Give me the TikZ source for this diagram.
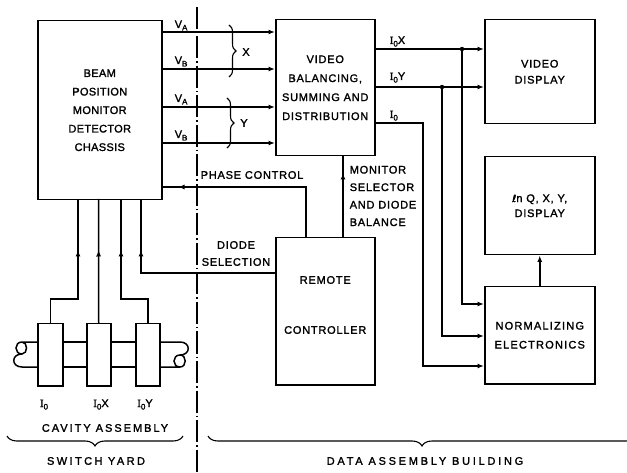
\documentclass[tikz,border=0pt]{standalone}
\usepackage{fontspec}
\setmainfont{Liberation Sans}[LetterSpace=7,FakeBold=1.6]
\newfontfamily\tightf{Liberation Sans}[LetterSpace=3,FakeBold=1.6]
\newfontfamily\normf{Liberation Sans}[LetterSpace=11,FakeBold=1.6]
\newfontfamily\cavf{Liberation Sans}[LetterSpace=18,FakeBold=1.6]
\newfontfamily\swf{Liberation Sans}[LetterSpace=22,FakeBold=1.6]
\newfontfamily\daf{Liberation Sans}[LetterSpace=25,FakeBold=1.6]
\newfontfamily\serifI{Liberation Serif}[FakeBold=1.6]
\newfontfamily\djv{DejaVu Sans}[FakeBold=1.2]
\usetikzlibrary{arrows.meta,decorations.pathreplacing,decorations.markings,calc}
\newcommand\lsub[1]{\raisebox{-2.5pt}{\fontsize{8}{8}\selectfont #1}}
\newcommand\Izero{{\serifI I}\lsub{0}}
\begin{document}
\begin{tikzpicture}[x=1pt,y=-1pt,line width=1.5pt,
  font=\fontsize{11}{13}\selectfont,
  box/.style={draw, line width=1.5pt, inner sep=0pt, align=center, anchor=north west},
  lbl/.style={inner sep=0pt},
  sig/.style={-{Latex[length=6.5pt,width=5pt]}},
  midfwd/.style={postaction={decorate},decoration={markings,mark=at position #1 with {\arrow{Latex[length=6.5pt,width=5pt]}}}},
  midrev/.style={postaction={decorate},decoration={markings,mark=at position #1 with {\arrowreversed{Latex[length=6.5pt,width=5pt]}}}},
  bracey/.style={decorate,decoration={brace,amplitude=#1},line width=1.1pt}
]
\useasboundingbox (0,0) rectangle (627,473);

% separation line
\draw[line width=1.3pt, dash pattern=on 22pt off 3pt on 1.5pt off 3pt] (197,7) -- (197,473);

% boxes
\node[box, minimum width=124pt, minimum height=179pt, font=\tightf\fontsize{11}{18.5}\selectfont] (bpm) at (37,20)
  {BEAM\\POSITION\\MONITOR\\DETECTOR\\CHASSIS};
\node[box, minimum width=99pt, minimum height=136pt, font=\fontsize{11}{19}\selectfont] (vbal) at (275,19)
  {VIDEO\\BALANCING,\\SUMMING AND\\DISTRIBUTION};
\node[box, minimum width=110pt, minimum height=104pt, font=\fontsize{11}{16}\selectfont] (vdisp) at (484,19)
  {VIDEO\\DISPLAY};
\node[box, minimum width=110pt, minimum height=98pt, font=\fontsize{11}{15}\selectfont] (lnq) at (484,156)
  {{\djv\fontsize{10}{10}\selectfont ℓ}n Q, X, Y,\\DISPLAY};
\node[box, minimum width=110pt, minimum height=97pt, font=\normf\fontsize{11}{19}\selectfont] (norm) at (484,286)
  {NORMALIZING\\ELECTRONICS};
\node[box, minimum width=99pt, minimum height=147pt] (remote) at (275,237) {};
\node[lbl] (remtxt1) at ($(remote.north)+(0,43)$) {REMOTE};
\node[lbl] (remtxt2) at ($(remote.north)+(0,93)$) {CONTROLLER};

% cavity boxes
\node[box, minimum width=25pt, minimum height=62pt] (c1) at (37,323) {};
\node[box, minimum width=24pt, minimum height=62pt] (c2) at (86,323) {};
\node[box, minimum width=24pt, minimum height=62pt] (c3) at (135,323) {};

% pipe
\coordinate (pt) at (0,342);
\coordinate (pb) at (0,367);
\draw (c1.west |- pt) -- (22,342) .. controls (14,342) and (14,354) .. (22,354)
      .. controls (28,354) and (28,342) .. (22,342);
\draw (c1.west |- pb) -- (22,367) .. controls (11,367) and (11,354) .. (22,354);
\draw (c1.east |- pt) -- (c2.west |- pt);
\draw (c1.east |- pb) -- (c2.west |- pb);
\draw (c2.east |- pt) -- (c3.west |- pt);
\draw (c2.east |- pb) -- (c3.west |- pb);
\draw (c3.east |- pt) -- (180,342) .. controls (191,342) and (191,355) .. (180,355);
\draw (c3.east |- pb) -- (180,367) .. controls (172,367) and (172,355) .. (180,355)
      .. controls (187,355) and (187,367) .. (180,367);

% leads from BPM to cavity
\coordinate (l1) at (78,199);
\coordinate (l2) at (98.5,199);
\coordinate (l3) at (121,199);
\coordinate (l4) at (141,199);
\draw[midrev=51pt] (l1) -- ++(0,100) -| (c1.north);
\draw[midrev=51pt] (l2) -- (c2.north);
\draw[midrev=51pt] (l3) -- ++(0,100) -| (c3.north);
\draw[midrev=51pt] (l4) -- ++(0,74) coordinate (k4) -- (k4 -| remote.west);

% V signals
\foreach \yy in {32, 69, 107, 143}{
  \draw[sig] (bpm.east |- 0,\yy) -- (vbal.west |- 0,\yy);
}
\node[lbl, anchor=base west] (tva1) at (174,28) {V\lsub{A}};
\node[lbl, anchor=base west] (tvb1) at (174,64) {V\lsub{B}};
\node[lbl, anchor=base west] (tva2) at (174,102) {V\lsub{A}};
\node[lbl, anchor=base west] (tvb2) at (174,138) {V\lsub{B}};

% braces X,Y
\draw[bracey=7pt] (229,25) -- (229,77);
\node[lbl] (tx) at (246,52) {X};
\draw[bracey=7pt] (227,98) -- (227,148);
\node[lbl] (ty) at (244,123) {Y};

% phase control
\coordinate (pc) at (306,0);
\draw[midfwd=178pt] (remote.north -| pc) |- (bpm.east |- 0,187);
\node[lbl, anchor=west] (tpc) at (200,175) {PHASE CONTROL};

% monitor selector
\coordinate (ms) at (343,0);
\draw[midfwd=64pt] (remote.north -| ms) -- (vbal.south -| ms);
\node[lbl, anchor=west, align=left, font=\fontsize{11}{17.5}\selectfont] (tms) at (349,196)
  {MONITOR\\SELECTOR\\AND DIODE\\BALANCE};

% diode selection
\node[lbl, align=center, font=\fontsize{11}{17}\selectfont] (tds) at (236,253.5) {DIODE\\SELECTION};

% right side signals
\coordinate (jx) at (462,49);
\coordinate (jy) at (442,87);
\draw[sig] (vbal.east |- jx) -- (vdisp.west |- jx);
\draw[sig] (vbal.east |- jy) -- (vdisp.west |- jy);
\fill (jx) circle (2.2pt);
\fill (jy) circle (2.2pt);
\draw[sig] (jx) |- (norm.west |- 0,304);
\draw[sig] (jy) |- (norm.west |- 0,336);
\draw[sig] (vbal.east |- 0,123) -- (423,123) |- (norm.west |- 0,366);
\draw[sig] (norm.north) -- (lnq.south);
\node[lbl, anchor=base west] (tix) at (389,44) {\Izero X};
\node[lbl, anchor=base west] (tiy) at (389,80) {\Izero Y};
\node[lbl, anchor=base west] (ti0) at (389,118) {\Izero};

% cavity labels
\node[lbl, anchor=base] (ci0) at (44,407) {\Izero};
\node[lbl, anchor=base] (cix) at (101,407) {\Izero X};
\node[lbl, anchor=base] (ciy) at (145,407) {\Izero Y};
\node[lbl, font=\cavf\fontsize{11}{13}\selectfont] (tcav) at (105,428) {CAVITY ASSEMBLY};

% bottom braces
\draw[bracey=10pt] (183,436) -- (7,436);
\node[lbl, font=\swf\fontsize{11}{13}\selectfont] (tsw) at (96,461) {SWITCH YARD};
\draw[bracey=10pt] (636,436) -- (208,436);
\node[lbl, font=\daf\fontsize{11}{13}\selectfont] (tda) at (425,461) {DATA ASSEMBLY BUILDING};
\end{tikzpicture}
\end{document}
